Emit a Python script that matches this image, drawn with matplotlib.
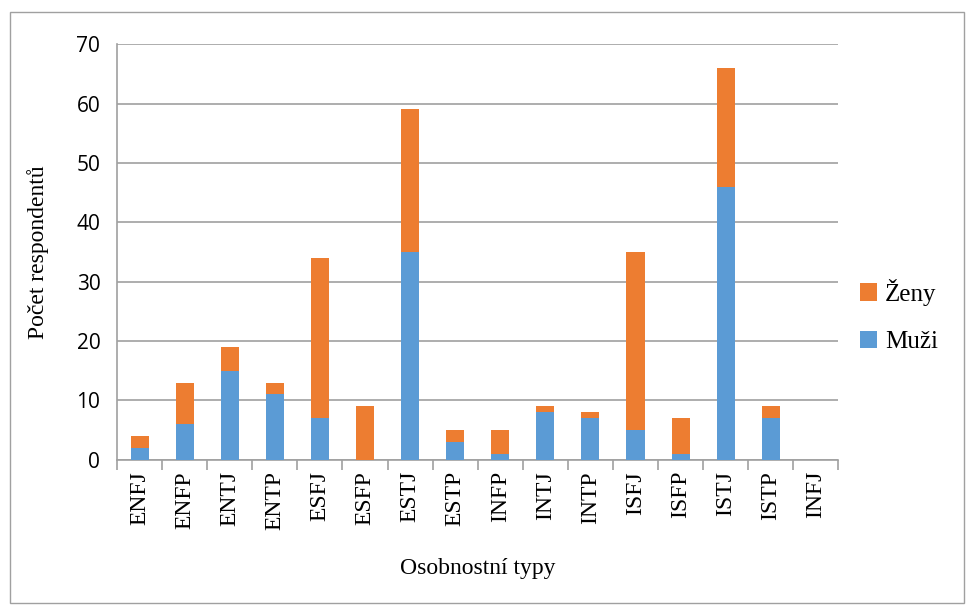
import numpy as np
import matplotlib.pyplot as plt
from matplotlib.patches import Rectangle
from matplotlib.font_manager import FontProperties

types = ["ENFJ", "ENFP", "ENTJ", "ENTP", "ESFJ", "ESFP", "ESTJ", "ESTP",
         "INFP", "INTJ", "INTP", "ISFJ", "ISFP", "ISTJ", "ISTP", "INFJ"]
muzi = [2, 6, 15, 11, 7, 0, 35, 3, 1, 8, 7, 5, 1, 46, 7, 0]
zeny = [2, 7, 4, 2, 27, 9, 24, 2, 4, 1, 1, 30, 6, 20, 2, 0]

serif = FontProperties(family="Liberation Serif", size=17)
fig = plt.figure(figsize=(9.67, 6.05), dpi=100)
ax = fig.add_axes([0.121, 0.240, 0.746, 0.687])

x = np.arange(len(types))
b1 = ax.bar(x, muzi, width=0.4, color="#5B9BD5", label="Muži", zorder=3)
b2 = ax.bar(x, zeny, width=0.4, bottom=muzi, color="#ED7D31", label="Ženy", zorder=3)

ax.set_xlim(-0.5, len(types) - 0.5)
ax.set_ylim(0, 70)
ax.set_yticks(range(0, 71, 10))
ax.yaxis.grid(True, color="#a0a0a0", linewidth=1.2, zorder=0)
ax.tick_params(axis="y", length=0, labelsize=15, pad=12)
for t in ax.get_yticklabels():
    t.set_fontfamily("Open Sans")

ax.set_xticks(x)
ax.set_xticklabels(types, rotation=90, fontproperties=serif)
ax.tick_params(axis="x", length=0, pad=8)
ax.set_xticks(np.arange(-0.5, len(types)), minor=True)
ax.tick_params(axis="x", which="minor", length=7, color="#a0a0a0", width=1.2)

for s in ["top", "right"]:
    ax.spines[s].set_visible(False)
for s in ["left", "bottom"]:
    ax.spines[s].set_color("#a0a0a0")
    ax.spines[s].set_linewidth(1.2)

ax.set_ylabel("Počet respondentů", fontproperties=serif, labelpad=20)
ax.set_xlabel("Osobnostní typy", fontproperties=serif, labelpad=20)

leg = fig.legend([b2, b1], ["Ženy", "Muži"], loc="center left",
                 bbox_to_anchor=(0.866, 0.478), frameon=False,
                 prop=FontProperties(family="Liberation Serif", size=18),
                 handlelength=0.7, handleheight=0.7, labelspacing=1.0,
                 handletextpad=0.3)

fig.patches.append(Rectangle((0.010, 0.003), 0.987, 0.977, transform=fig.transFigure,
                             fill=False, edgecolor="#a0a0a0", linewidth=1))

plt.savefig("out.png", dpi=100)
